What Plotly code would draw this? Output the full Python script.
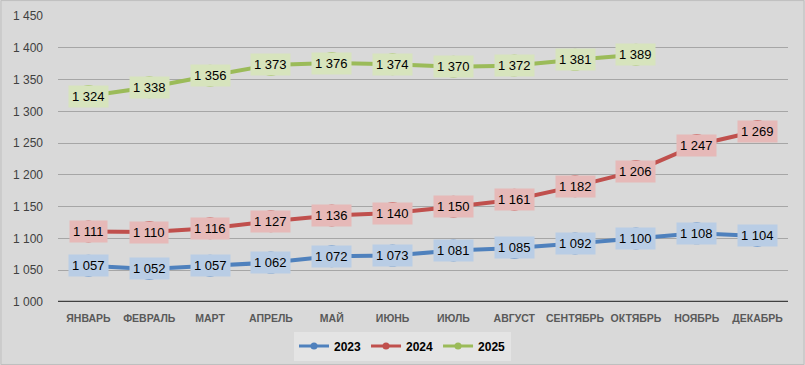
import plotly.graph_objects as go

months = ["ЯНВАРЬ", "ФЕВРАЛЬ", "МАРТ", "АПРЕЛЬ", "МАЙ", "ИЮНЬ", "ИЮЛЬ",
          "АВГУСТ", "СЕНТЯБРЬ", "ОКТЯБРЬ", "НОЯБРЬ", "ДЕКАБРЬ"]
v2023 = [1057, 1052, 1057, 1062, 1072, 1073, 1081, 1085, 1092, 1100, 1108, 1104]
v2024 = [1111, 1110, 1116, 1127, 1136, 1140, 1150, 1161, 1182, 1206, 1247, 1269]
v2025 = [1324, 1338, 1356, 1373, 1376, 1374, 1370, 1372, 1381, 1389]
tick_vals = [1000, 1050, 1100, 1150, 1200, 1250, 1300, 1350, 1400, 1450]
tick_text = ["1 000", "1 050", "1 100", "1 150", "1 200", "1 250", "1 300", "1 350", "1 400", "1 450"]

series = [
    ("2023", v2023, "#4f81bd", "#b9cde5"),
    ("2024", v2024, "#c0504d", "#e6b9b8"),
    ("2025", v2025, "#9bbb59", "#d7e4bd"),
]

def fmt(v):
    return f"{v:,}".replace(",", " ")

fig = go.Figure()
annotations = []
for name, vals, color, light in series:
    fig.add_trace(go.Scatter(
        x=months[:len(vals)], y=vals, name=name, mode="lines+markers",
        line=dict(color=color, width=4),
        marker=dict(color=color, size=22),
        showlegend=False,
    ))
    for m, v in zip(months, vals):
        annotations.append(dict(
            x=m, y=v, xref="x", yref="y", text=fmt(v), showarrow=False,
            bgcolor=light, borderpad=3,
            font=dict(family="Liberation Sans, Arial", size=13, color="#000000"),
        ))
# legend-only entries with small markers
for name, vals, color, light in series:
    fig.add_trace(go.Scatter(
        x=[None], y=[None], name=name, mode="lines+markers",
        line=dict(color=color, width=3), marker=dict(color=color, size=7),
    ))

fig.update_layout(
    width=805, height=365,
    margin=dict(l=58, r=17, t=16, b=63, autoexpand=False),
    paper_bgcolor="#d9d9d9", plot_bgcolor="#d9d9d9",
    annotations=annotations,
    showlegend=True,
    legend=dict(orientation="h", xref="container", yref="container",
                x=0.5, xanchor="center", y=0.052, yanchor="middle",
                bgcolor="#e4e4e4", itemwidth=30,
                font=dict(family="Liberation Sans", size=12, color="#000000", weight="bold"),
                traceorder="normal"),
    xaxis=dict(showgrid=False, tickangle=0, automargin=False, range=[-0.5, 11.5],
               tickfont=dict(family="Liberation Sans", size=10.5, color="#595959", weight="bold"),
               ticks="", showline=False, zeroline=False, ticklabelstandoff=8),
    yaxis=dict(range=[1000, 1450], tickvals=tick_vals, ticktext=tick_text, automargin=False,
               showgrid=True, gridcolor="#a6a6a6", gridwidth=1,
               tickfont=dict(family="Liberation Sans", size=12, color="#404040"),
               ticks="", zeroline=False, showline=False, ticklabelstandoff=14),
    shapes=[
        dict(type="line", xref="paper", yref="y", x0=0, x1=1, y0=1000, y1=1000,
             line=dict(color="#404040", width=2.5)),
        dict(type="rect", xref="paper", yref="paper", x0=-0.0781, x1=1.0219, y0=-0.2185, y1=1.054,
             line=dict(color="#bfbfbf", width=1)),
    ],
)
fig.write_html("out.html", config={"displayModeBar": False},
               post_script="document.body.style.margin='0';")
